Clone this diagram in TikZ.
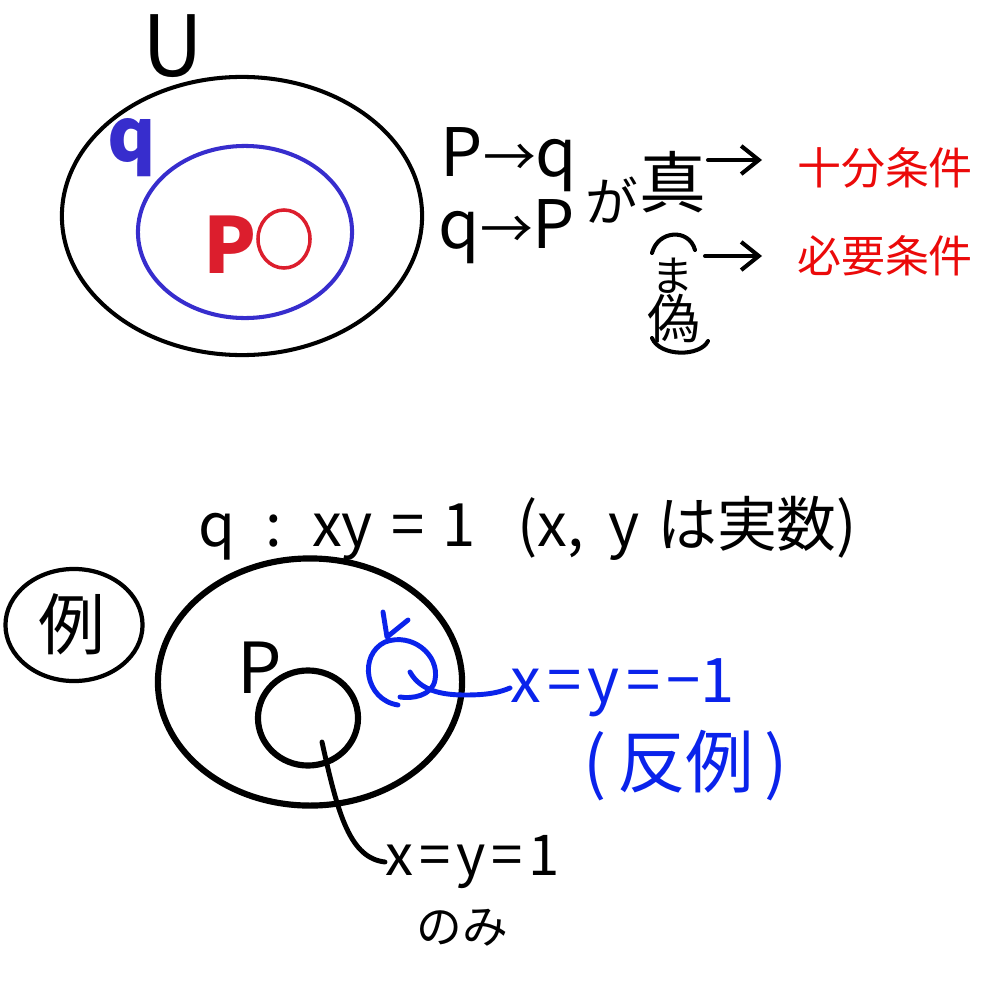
\documentclass[tikz,border=0pt]{standalone}
\usepackage{fontspec}
\setmainfont{Noto Sans CJK JP}
\usetikzlibrary{arrows.meta,shapes.geometric}
\definecolor{penblue}{RGB}{55,45,205}
\definecolor{inkblue}{RGB}{10,35,235}
\definecolor{penred}{RGB}{220,30,45}
\definecolor{txtred}{RGB}{235,10,10}
\tikzset{
  pen/.style={line width=1.15pt, line cap=round, line join=round},
  thick pen/.style={line width=1.75pt, line cap=round, line join=round},
  txt/.style={inner sep=0pt, anchor=center},
  fs/.style={font=\fontsize{#1}{#1}\selectfont},
  set/.style={ellipse, draw, inner sep=0pt},
  arr/.style={pen, -{Straight Barb[length=5pt,width=8pt]}}
}
\newcommand{\myletter}[1]{{\fontsize{19pt}{19pt}\selectfont #1}}
\newcommand{\mysmarr}{{\fontsize{15pt}{15pt}\selectfont →}}
\begin{document}
\begin{tikzpicture}[x=0.01cm, y=-0.01cm]
\useasboundingbox (0,0) rectangle (1000,1000);
% ---------- top diagram ----------
\node[txt, fs=24pt] (U) at (173,46) {U};
\node[set, pen, minimum width=3.6cm, minimum height=2.78cm] (univ) at (242,216) {};
\node[set, pen, draw=penblue, minimum width=2.14cm, minimum height=1.72cm] (qset) at (245,232) {};
\node[txt, fs=21pt, text=penblue] (qlab) at (132,148) {\bfseries q};
\node[txt, fs=22pt, text=penred] (plab) at (230,245) {\bfseries P};
\node[set, line width=1pt, draw=penred, minimum width=0.52cm, minimum height=0.58cm] (pset) at (284,239) {};
% implications
\node[txt, anchor=west] (pq) at (440,160) {\myletter{P}\mysmarr\myletter{q}};
\node[txt, anchor=west] (qp) at (438,232) {\myletter{q}\mysmarr\myletter{P}};
\node[txt, fs=15pt] (ga) at (612,200) {が};
\node[txt, fs=19pt] (shin) at (673,182) {真};
\draw[pen] (652,253) .. controls (658,230) and (689,228) .. (695,250);
\node[txt, fs=12pt] (ma) at (673,276) {ま};
\node[txt, fs=15pt] (gi) at (674,318) {偽};
\draw[pen] (652,338) .. controls (660,357) and (700,357) .. (708,341);
\coordinate (a1s) at (708,160);
\coordinate (a1e) at (762,160);
\coordinate (a2s) at (705,256);
\coordinate (a2e) at (762,256);
\draw[arr] (a1s) -- (a1e);
\draw[arr] (a2s) -- (a2e);
\node[txt, fs=12.5pt, text=txtred] (suff) at (885,168) {十分条件};
\node[txt, fs=12.5pt, text=txtred] (nec) at (885,256) {必要条件};
% ---------- bottom diagram ----------
\node[txt, fs=17pt, anchor=west] (qdef) at (198,528)
  {q\hspace{0.5em}:\hspace{0.5em}xy\hspace{0.3em}=\hspace{0.3em}1\hspace{0.7em}(x,\hspace{0.4em}y\hspace{0.3em}は実数)};
\node[set, line width=1.2pt, minimum width=1.37cm, minimum height=1.12cm] (rei) at (74,625) {};
\node[txt, fs=19pt] (reitxt) at (72,624) {例};
\node[set, thick pen, minimum width=3.04cm, minimum height=2.47cm] (qbig) at (310,682) {};
\node[txt, fs=20pt] (plab2) at (260,668) {P};
\node[set, thick pen, minimum width=1.0cm, minimum height=0.95cm] (psmall) at (308,718) {};
\coordinate (pin) at (322,742);
\node[txt, fs=16pt, anchor=west] (xy1) at (385,862) {x\hspace{0.1em}=\hspace{0.1em}y\hspace{0.1em}=\hspace{0.1em}1};
\node[txt, fs=13pt] (nomi) at (462,928) {のみ};
\draw[pen, line width=1.4pt] (pin) .. controls (338,815) and (350,858) .. (xy1.west);
% counterexample
\draw[pen, line width=1.4pt, draw=inkblue] (383,612) -- (387,637) -- (408,620);
\draw[pen, line width=1.4pt, draw=inkblue] (398,705) .. controls (365,700) and (358,655) .. (385,642)
   .. controls (412,632) and (440,655) .. (435,680) .. controls (432,696) and (412,699) .. (400,697);
\coordinate (curl) at (410,672);
\node[txt, fs=17.5pt, text=inkblue, anchor=west] (xm1) at (510,688) {x\hspace{0.1em}=\hspace{0.1em}y\hspace{0.1em}=\hspace{0.1em}−1};
\draw[pen, line width=1.4pt, draw=inkblue] (curl) .. controls (420,690) and (440,695) .. (465,695) .. controls (490,695) and (500,692) .. (xm1.west);
\node[txt, fs=19.5pt, text=inkblue] (hanrei) at (686,766) {(\hspace{0.15em}反例\hspace{0.15em})};
\end{tikzpicture}
\end{document}
